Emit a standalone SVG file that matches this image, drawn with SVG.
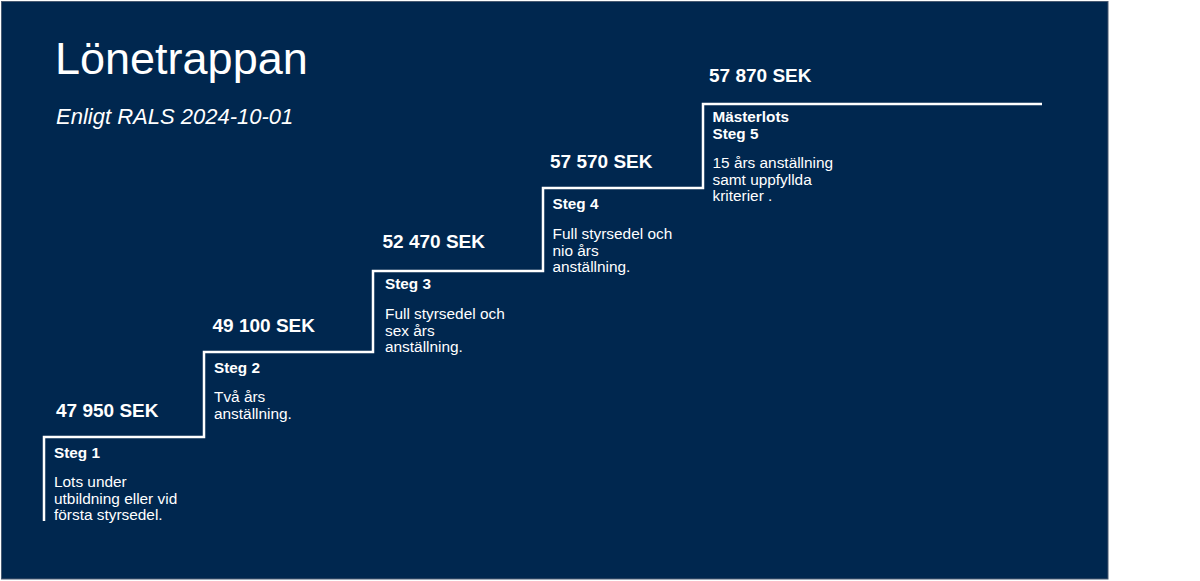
<svg xmlns="http://www.w3.org/2000/svg" width="1200" height="581" viewBox="0 0 1200 581">
<style>
text{fill:#fff;font-family:"Liberation Sans",Arial,sans-serif}
.title{font-size:45px}
.sub{font-size:22px;font-style:italic}
.price{font-size:19px;font-weight:bold}
.step{font-size:15.3px;font-weight:bold}
.desc{font-size:15.4px}
.stair{fill:none;stroke:#fff;stroke-width:2.5}
</style>
<rect x="0" y="0" width="1200" height="581" fill="#fff"/>
<rect x="1.5" y="1.5" width="1106.5" height="577.5" fill="#00274f" stroke="#4a5b72" stroke-width="1"/>
<g id="header">
<text class="title" x="55" y="74">Lönetrappan</text>
<text class="sub" x="56" y="124">Enligt RALS 2024-10-01</text>
</g>
<g id="connectors">
<path class="stair" d="M44 521 V437 H204 V352 H373 V271 H543 V188 H703 V104 H1042"/>
</g>
<g id="step1">
<text class="price" x="56" y="417">47 950 SEK</text>
<text class="step" x="54" y="458">Steg 1</text>
<text class="desc" x="54" y="487">Lots under</text>
<text class="desc" x="54" y="503.5">utbildning eller vid</text>
<text class="desc" x="54" y="520">första styrsedel.</text>
</g>
<g id="step2">
<text class="price" x="212.5" y="332">49 100 SEK</text>
<text class="step" x="214" y="373">Steg 2</text>
<text class="desc" x="214" y="402">Två års</text>
<text class="desc" x="214" y="418.5">anställning.</text>
</g>
<g id="step3">
<text class="price" x="382.5" y="247.5">52 470 SEK</text>
<text class="step" x="385" y="289">Steg 3</text>
<text class="desc" x="385" y="319">Full styrsedel och</text>
<text class="desc" x="385" y="335.5">sex års</text>
<text class="desc" x="385" y="352">anställning.</text>
</g>
<g id="step4">
<text class="price" x="550" y="167.5">57 570 SEK</text>
<text class="step" x="552.5" y="209">Steg 4</text>
<text class="desc" x="552.5" y="239">Full styrsedel och</text>
<text class="desc" x="552.5" y="255.5">nio års</text>
<text class="desc" x="552.5" y="272">anställning.</text>
</g>
<g id="step5">
<text class="price" x="709" y="81.5">57 870 SEK</text>
<text class="step" x="712.5" y="122">Mästerlots</text>
<text class="step" x="712.5" y="138.5">Steg 5</text>
<text class="desc" x="712.5" y="168">15 års anställning</text>
<text class="desc" x="712.5" y="184.5">samt uppfyllda</text>
<text class="desc" x="712.5" y="201">kriterier .</text>
</g>
</svg>
